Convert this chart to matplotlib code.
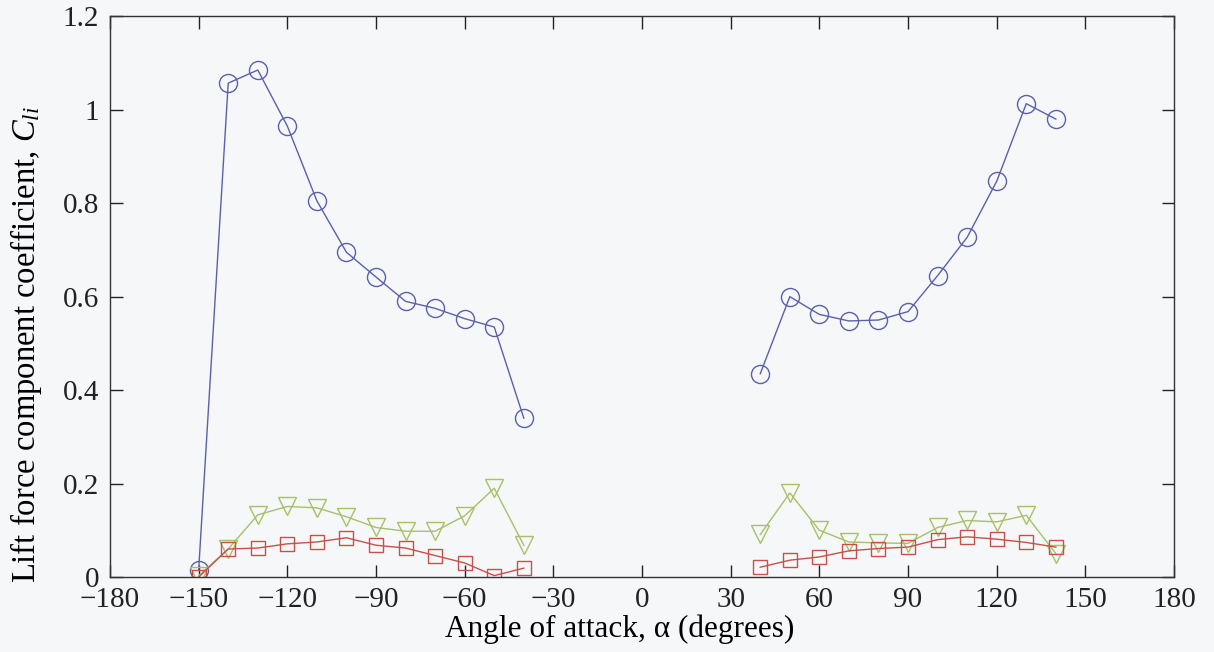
import matplotlib
matplotlib.use("Agg")
import matplotlib.pyplot as plt

plt.rcParams['font.family'] = ['Liberation Serif', 'DejaVu Serif']
plt.rcParams['mathtext.fontset'] = 'custom'
plt.rcParams['mathtext.rm'] = 'Liberation Serif'
plt.rcParams['mathtext.it'] = 'Liberation Serif:italic'

angles_neg = [-150, -140, -130, -120, -110, -100, -90, -80, -70, -60, -50, -40]
angles_pos = [40, 50, 60, 70, 80, 90, 100, 110, 120, 130, 140]

blue_neg = [0.015, 1.057, 1.085, 0.965, 0.805, 0.695, 0.642, 0.590, 0.575, 0.553, 0.535, 0.340]
blue_pos = [0.435, 0.600, 0.562, 0.548, 0.550, 0.568, 0.645, 0.727, 0.847, 1.013, 0.980]

green_neg = [0.003, 0.060, 0.133, 0.151, 0.148, 0.129, 0.106, 0.098, 0.098, 0.131, 0.190, 0.068]
green_pos = [0.091, 0.180, 0.100, 0.075, 0.073, 0.072, 0.106, 0.121, 0.118, 0.132, 0.050]

red_neg = [0.000, 0.060, 0.062, 0.071, 0.075, 0.084, 0.068, 0.062, 0.046, 0.030, 0.003, 0.019]
red_pos = [0.021, 0.036, 0.043, 0.056, 0.061, 0.064, 0.080, 0.086, 0.081, 0.074, 0.064]

xticks = [-180, -150, -120, -90, -60, -30, 0, 30, 60, 90, 120, 150, 180]
yticks = [0, 0.2, 0.4, 0.6, 0.8, 1.0, 1.2]
yticklabels = ['0', '0.2', '0.4', '0.6', '0.8', '1', '1.2']

bg = '#f6f7f9'
fig = plt.figure(figsize=(12.14, 6.52), dpi=100, facecolor=bg)
ax = fig.add_axes([0.0906, 0.115, 0.8765, 0.860])
ax.set_facecolor(bg)

c_blue = '#5a60aa'
c_green = '#a8c068'
c_red = '#c8504a'
sizes = {'o': 13, 'v': 12.5, 's': 10.5}
for xs, ys, col, mk in [(angles_neg, blue_neg, c_blue, 'o'), (angles_pos, blue_pos, c_blue, 'o'),
                        (angles_neg, green_neg, c_green, 'v'), (angles_pos, green_pos, c_green, 'v'),
                        (angles_neg, red_neg, c_red, 's'), (angles_pos, red_pos, c_red, 's')]:
    ax.plot(xs, ys, color=col, lw=1.0, marker=mk, markersize=sizes[mk], markerfacecolor='none',
            markeredgecolor=col, markeredgewidth=1.0)

ax.set_xlim(-180, 180)
ax.set_ylim(0, 1.2)
ax.set_xticks(xticks)
ax.set_xticklabels([str(t).replace('-', '\u2212') for t in xticks])
ax.set_yticks(yticks)
ax.set_yticklabels(yticklabels)
ax.tick_params(direction='in', length=9, width=1, top=True, right=True, labelsize=21,
               colors='#222222')
ax.tick_params(axis='x', pad=7)
ax.tick_params(axis='y', pad=8)
for s in ax.spines.values():
    s.set_linewidth(1.0)
    s.set_color('#333333')

ax.set_xlabel('Angle of attack, \u03b1 (degrees)', fontsize=22.5)
ax.xaxis.set_label_coords(0.479, -0.066)
ax.set_ylabel('Lift force component coefficient, $C_{li}$', fontsize=23.5)
ax.yaxis.set_label_coords(-0.062, 0.415)

fig.savefig('out.png', dpi=100, facecolor=bg)
